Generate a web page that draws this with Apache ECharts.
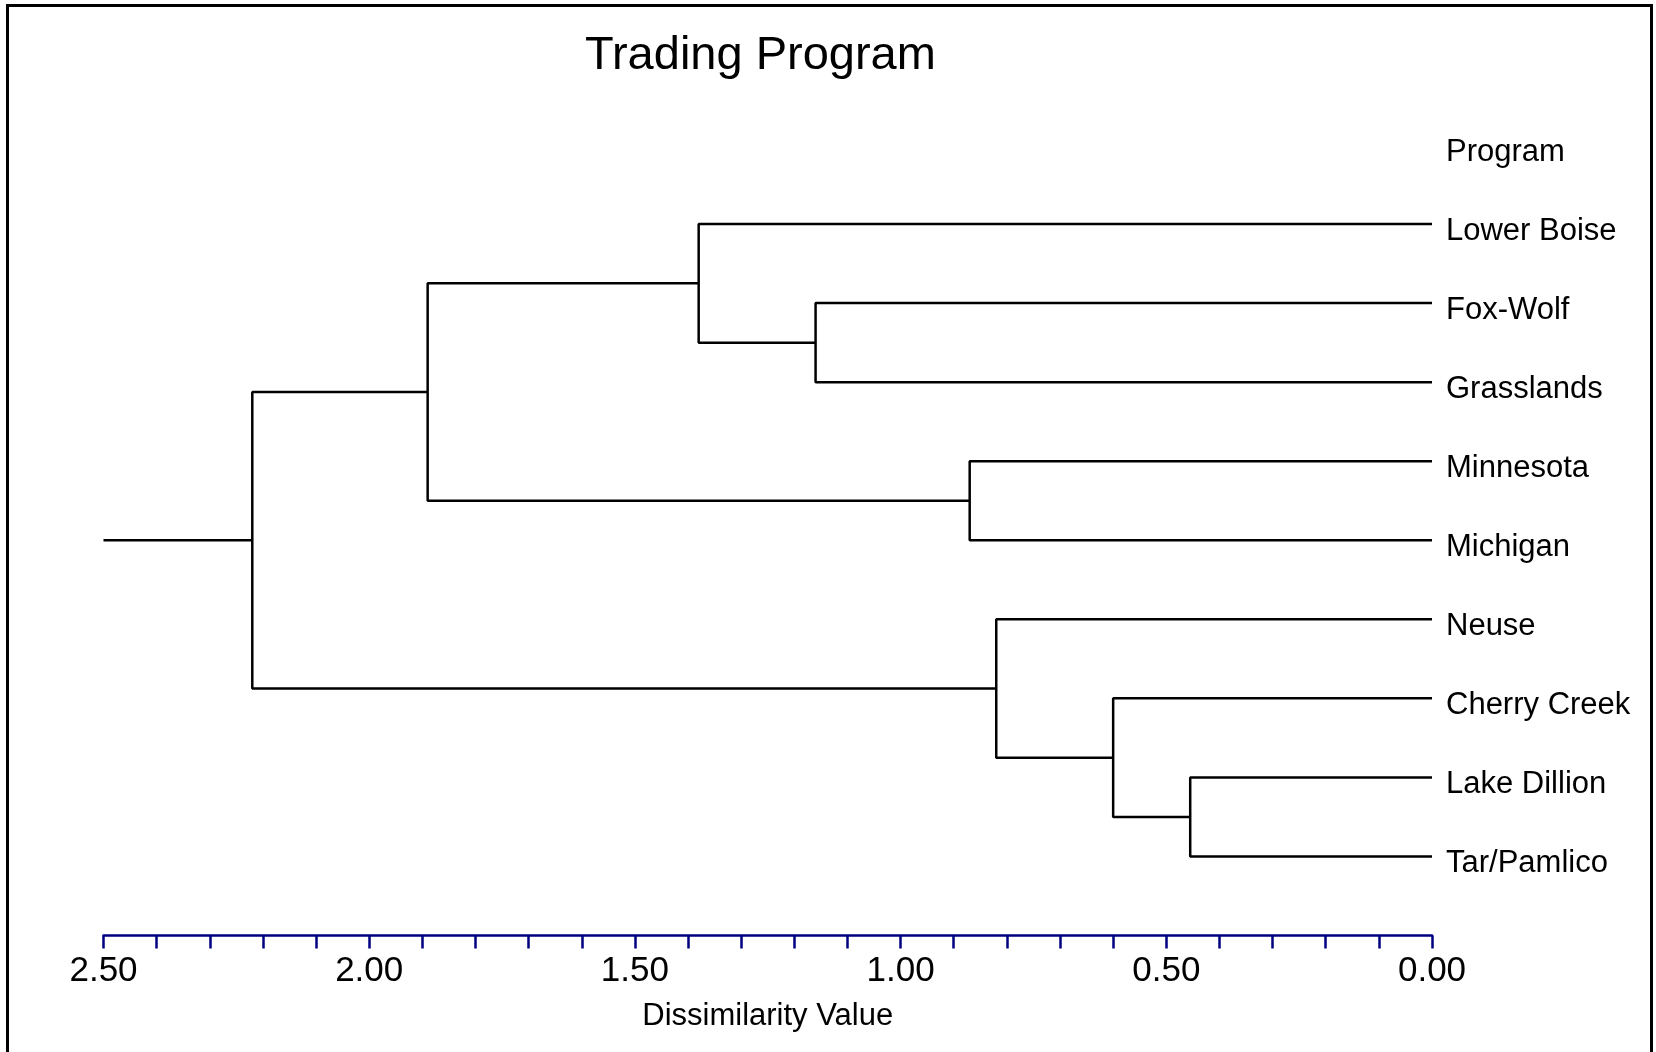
<!DOCTYPE html>
<html>
<head>
<meta charset="utf-8">
<script src="https://cdn.jsdelivr.net/npm/echarts@6/dist/echarts.min.js"></script>
<style>
html,body{margin:0;padding:0;background:#fff;}
#chart{width:1656px;height:1052px;}
</style>
</head>
<body>
<div id="chart"></div>
<script>
// Leaves (top to bottom) and header
const headerLabel = 'Program';
const programs = ['Lower Boise','Fox-Wolf','Grasslands','Minnesota','Michigan','Neuse','Cherry Creek','Lake Dillion','Tar/Pamlico'];
// Merges: [childA, childB, dissimilarity]; node ids 0..8 = leaves, 9.. = merges in order
const mergeA = [1, 0, 3, 10, 7, 6, 5, 12];
const mergeB = [2, 9, 4, 11, 8, 13, 14, 15];
const mergeHeight = [1.16, 1.38, 0.87, 1.89, 0.455, 0.60, 0.82, 2.22];
const rootTail = 2.50;
const xTicks = [0, 0.5, 1.0, 1.5, 2.0, 2.5];

// compute node positions
const nodeX = [], nodeY = [];
programs.forEach((p, i) => { nodeX.push(0); nodeY.push(i); });
mergeHeight.forEach((h, k) => {
  nodeX.push(h);
  nodeY.push((nodeY[mergeA[k]] + nodeY[mergeB[k]]) / 2);
});

const series = [];
mergeHeight.forEach((h, k) => {
  const a = mergeA[k], b = mergeB[k];
  series.push({
    type: 'line', symbol: 'none', silent: true, animation: false,
    lineStyle: { color: '#000', width: 2.5 },
    data: [[nodeX[a], nodeY[a]], [h, nodeY[a]], [h, nodeY[b]], [nodeX[b], nodeY[b]]]
  });
});
const rootId = nodeX.length - 1;
series.push({
  type: 'line', symbol: 'none', silent: true, animation: false,
  lineStyle: { color: '#000', width: 2.5 },
  data: [[nodeX[rootId], nodeY[rootId]], [rootTail, nodeY[rootId]]]
});

const FONT = 'Liberation Sans, Arial, sans-serif';
const chart = echarts.init(document.getElementById('chart'), null, { renderer: 'canvas' });
chart.setOption({
  backgroundColor: '#fff',
  animation: false,
  title: {
    text: 'Trading Program',
    left: 585, top: 33, padding: 0,
    textStyle: { fontFamily: FONT, fontSize: 47, fontWeight: 'normal', color: '#000' }
  },
  graphic: [{
    type: 'rect', silent: true,
    shape: { x: 7.5, y: 5.5, width: 1644, height: 1100 },
    style: { fill: 'none', stroke: '#000', lineWidth: 3 }
  }],
  grid: { left: 103.5, right: 224, top: 145, bottom: 116.5 },
  xAxis: {
    type: 'value', inverse: true, position: 'bottom',
    min: xTicks[0], max: xTicks[xTicks.length - 1], interval: 0.5,
    name: 'Dissimilarity Value', nameLocation: 'middle', nameGap: 65,
    nameTextStyle: { fontFamily: FONT, fontSize: 31, color: '#000' },
    axisLine: { show: true, onZero: false, lineStyle: { color: '#000080', width: 2.5 } },
    axisTick: { show: true, length: 13, lineStyle: { color: '#000080', width: 2.5 } },
    minorTick: { show: true, splitNumber: 5, length: 13, lineStyle: { color: '#000080', width: 2.5 } },
    splitLine: { show: false },
    axisLabel: { fontFamily: FONT, fontSize: 35, color: '#000', margin: 18,
      formatter: v => v.toFixed(2) }
  },
  yAxis: {
    type: 'value', inverse: true, min: -1, max: programs.length, interval: 1, position: 'right',
    axisLine: { show: false }, axisTick: { show: false }, splitLine: { show: false },
    axisLabel: {
      fontFamily: FONT, fontSize: 31, color: '#000', margin: 14,
      formatter: v => {
        const s = v === -1 ? headerLabel : (programs[v] || '');
        return s ? '{t|' + s + '}' : '';
      },
      rich: { t: { fontFamily: FONT, fontSize: 31, color: '#000', padding: [14, 0, 0, 0] } }
    }
  },
  series: series
});
</script>
</body>
</html>
